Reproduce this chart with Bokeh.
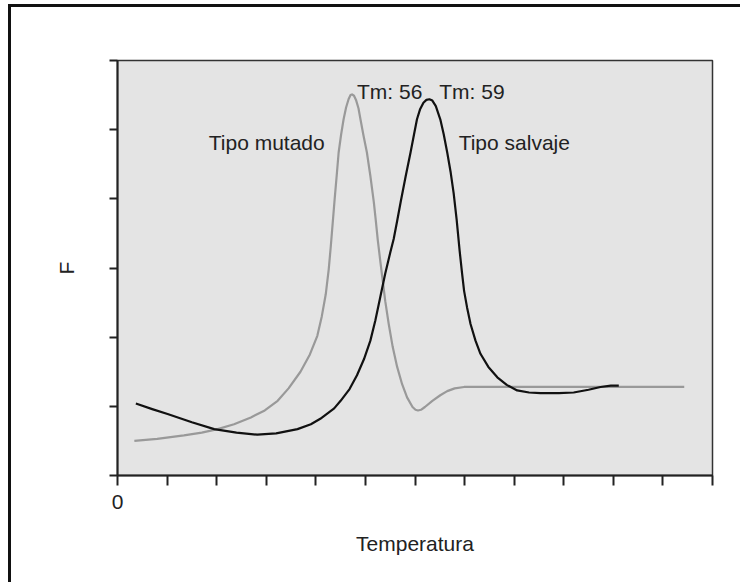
from bokeh.plotting import figure
from bokeh.models import FixedTicker, Range1d
from bokeh.core.properties import value
from bokeh.embed import file_html
from bokeh.resources import INLINE

# ---- data ----
x_ticks = list(range(0, 13))
y_ticks = list(range(0, 7))
x_tick_labels = {0: "0"}

mut_x = [0.34, 0.80, 1.34, 1.70, 2.02, 2.35, 2.69, 2.97, 3.23, 3.45, 3.69, 3.88, 4.03, 4.12,
         4.20, 4.26, 4.30, 4.34, 4.38, 4.42, 4.46, 4.51, 4.56, 4.61, 4.66, 4.70, 4.73, 4.77,
         4.81, 4.86, 4.90, 4.96, 5.03, 5.10, 5.17, 5.21, 5.25, 5.30, 5.34, 5.40, 5.47, 5.55,
         5.64, 5.74, 5.84, 5.95, 6.01, 6.06, 6.12, 6.20, 6.35, 6.51, 6.65, 6.80, 6.99, 7.50,
         11.43]
mut_y = [0.50, 0.53, 0.58, 0.62, 0.67, 0.74, 0.84, 0.94, 1.08, 1.26, 1.50, 1.75, 2.02, 2.30,
         2.62, 2.98, 3.30, 3.65, 4.00, 4.33, 4.67, 4.93, 5.15, 5.32, 5.44, 5.50, 5.51, 5.49,
         5.43, 5.31, 5.15, 4.92, 4.67, 4.33, 3.95, 3.68, 3.40, 3.10, 2.87, 2.52, 2.19, 1.86,
         1.57, 1.32, 1.13, 0.99, 0.95, 0.94, 0.95, 0.99, 1.08, 1.16, 1.22, 1.26, 1.28, 1.28,
         1.28]

wild_x = [0.37, 0.70, 1.01, 1.50, 1.95, 2.40, 2.82, 3.20, 3.63, 3.90, 4.09, 4.37, 4.50, 4.68,
          4.83, 4.97, 5.10, 5.20, 5.30, 5.40, 5.50, 5.57, 5.64, 5.71, 5.81, 5.91, 5.98, 6.04,
          6.10, 6.17, 6.23, 6.29, 6.35, 6.42, 6.51, 6.58, 6.65, 6.72, 6.78, 6.84, 6.90, 6.95,
          6.99, 7.05, 7.12, 7.22, 7.32, 7.48, 7.66, 7.85, 8.06, 8.30, 8.53, 8.90, 9.20, 9.50,
          9.74, 9.95, 10.11]
wild_y = [1.04, 0.96, 0.89, 0.77, 0.67, 0.62, 0.59, 0.61, 0.67, 0.74, 0.82, 0.97, 1.08, 1.25,
          1.45, 1.68, 1.95, 2.24, 2.58, 2.92, 3.22, 3.42, 3.68, 3.95, 4.32, 4.67, 4.93, 5.15,
          5.29, 5.39, 5.43, 5.44, 5.42, 5.34, 5.15, 4.93, 4.67, 4.38, 4.08, 3.70, 3.25, 2.92,
          2.67, 2.43, 2.19, 1.95, 1.76, 1.57, 1.42, 1.31, 1.23, 1.20, 1.19, 1.19, 1.20, 1.24,
          1.28, 1.30, 1.30]

labels_text = ["Tm: 56", "Tm: 59", "Tipo mutado", "Tipo salvaje"]
labels_x = [4.83, 6.49, 1.84, 6.88]
labels_y = [5.55, 5.55, 4.82, 4.82]

FONT = "Liberation Sans"
INK = "#222222"

# the page shows a frame line on the left/top of the figure: drawn as CSS border,
# canvas starts at x=11, y=7
p = figure(width=732, height=578, output_backend="svg", toolbar_location=None,
           x_range=Range1d(0, 12), y_range=Range1d(0, 6))
p.styles = {"margin-left": "8px", "margin-top": "4px",
            "border-left": "3px solid #111111", "border-top": "3px solid #111111"}
p.min_border_left = 106
p.min_border_right = 31
p.min_border_top = 53
p.min_border_bottom = 110
p.background_fill_color = "#e4e4e4"
p.border_fill_color = "white"
p.outline_line_color = "#333333"
p.outline_line_width = 1.5
p.grid.visible = False

# x axis
xa = p.xaxis[0]
xa.ticker = FixedTicker(ticks=x_ticks)
xa.major_label_overrides = {t: x_tick_labels.get(t, "") for t in x_ticks}
xa.major_tick_out = 10
xa.major_tick_in = 0
xa.minor_tick_line_color = None
xa.axis_line_color = INK
xa.axis_line_width = 2
xa.major_tick_line_color = INK
xa.major_tick_line_width = 2
xa.major_label_text_font = FONT
xa.major_label_text_font_size = "21px"
xa.major_label_text_color = INK
xa.major_label_standoff = 9
xa.axis_label = "Temperatura"
xa.axis_label_text_font = FONT
xa.axis_label_text_font_size = "21px"
xa.axis_label_text_font_style = "normal"
xa.axis_label_text_color = INK
xa.axis_label_standoff = 20

# y axis
ya = p.yaxis[0]
ya.ticker = FixedTicker(ticks=y_ticks)
ya.major_label_overrides = {t: "" for t in y_ticks}
ya.major_label_text_font_size = "0px"
ya.major_label_standoff = 0
ya.major_tick_out = 8
ya.major_tick_in = 0
ya.minor_tick_line_color = None
ya.axis_line_color = INK
ya.axis_line_width = 2
ya.major_tick_line_color = INK
ya.major_tick_line_width = 2
ya.axis_label = "F"
ya.axis_label_text_font = FONT
ya.axis_label_text_font_size = "21px"
ya.axis_label_text_font_style = "normal"
ya.axis_label_text_color = INK
ya.axis_label_standoff = 32

# curves
p.line(mut_x, mut_y, line_color="#999999", line_width=2.2, line_join="round")
p.line(wild_x, wild_y, line_color="#111111", line_width=2.2, line_join="round")

# annotations
p.text(x=labels_x, y=labels_y, text=labels_text, text_font=value(FONT),
       text_font_size="21px", text_color=INK, text_align="left",
       text_baseline="alphabetic")

open("out.html", "w").write(file_html(p, INLINE))
